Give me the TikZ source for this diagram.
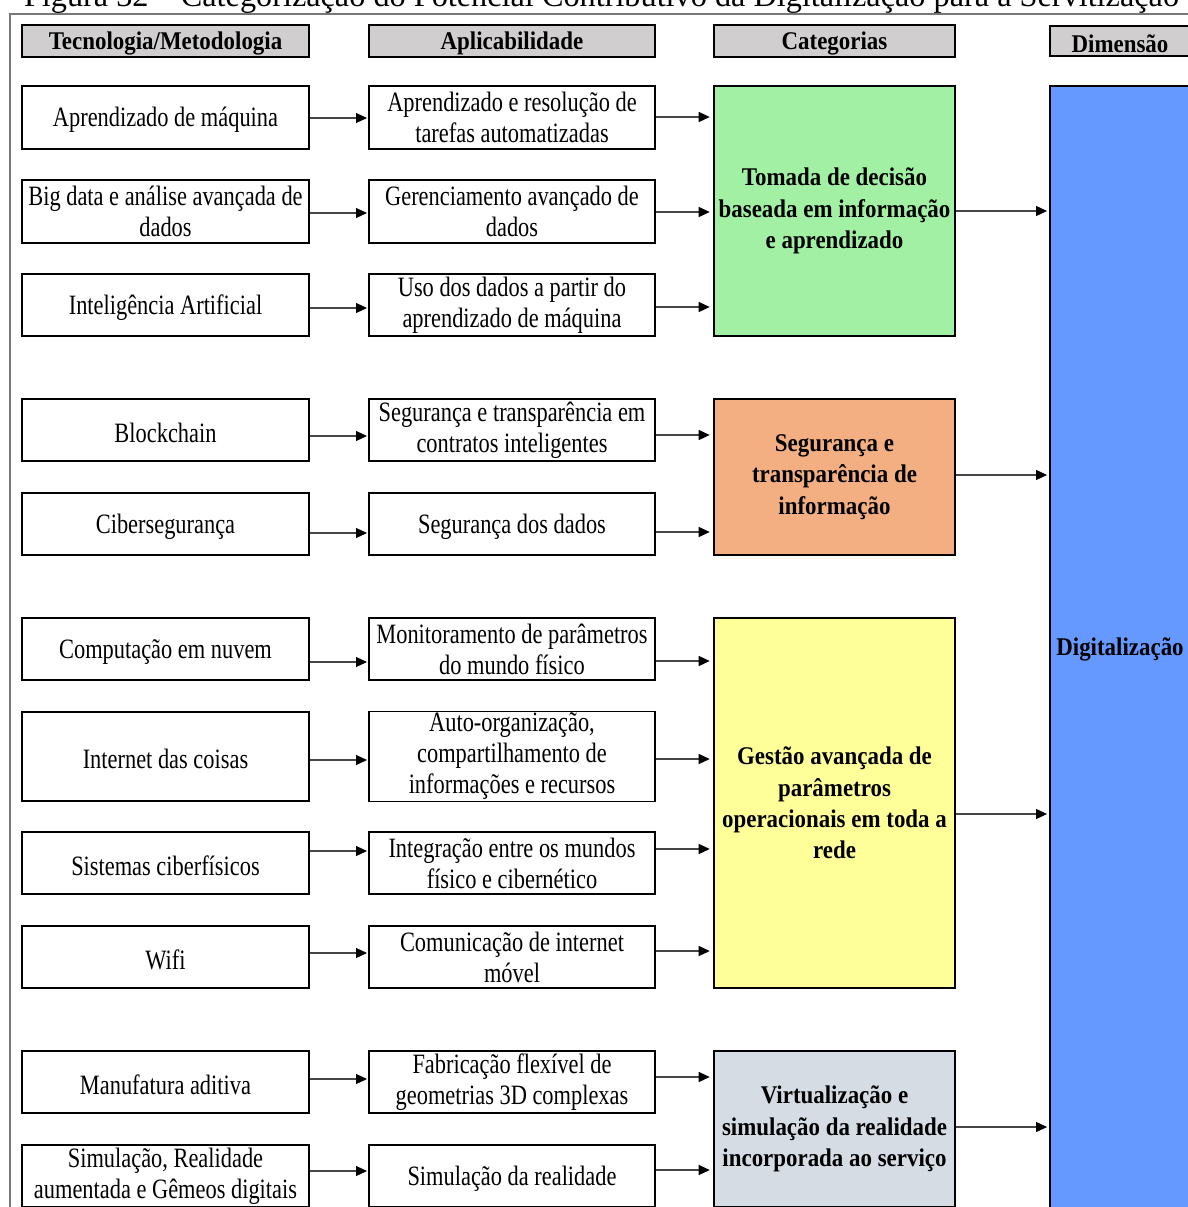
\documentclass[tikz,border=0pt]{standalone}
\usepackage{fontspec}
\setmainfont{Liberation Serif}
\newfontfamily\bodyfont[FakeStretch=0.8]{Liberation Serif}
\newfontfamily\boldfont[FakeStretch=0.9]{Liberation Serif Bold}
\usetikzlibrary{arrows.meta,shadows}

\definecolor{hdrgray}{RGB}{208,206,206}
\definecolor{catgreen}{RGB}{162,240,164}
\definecolor{catorange}{RGB}{243,175,130}
\definecolor{catyellow}{RGB}{255,255,153}
\definecolor{catgray}{RGB}{214,220,228}
\definecolor{dimblue}{RGB}{102,153,255}
\definecolor{framegray}{RGB}{120,120,120}
\definecolor{linegray}{RGB}{70,70,70}

\begin{document}
\begin{tikzpicture}[x=0.75pt,y=-0.75pt,
  bodytxt/.style={font=\bodyfont\fontsize{21}{23.25}\selectfont, align=center, inner sep=1pt,
    execute at begin node={\rule{0pt}{18.5pt}}},
  boldtxt/.style={font=\boldfont\fontsize{19.1}{23.6}\selectfont, align=center, inner sep=1pt,
    execute at begin node={\rule{0pt}{17.5pt}}},
  tbox/.style={bodytxt, draw=black, line width=1pt, fill=white,
    drop shadow={shadow xshift=0.9pt, shadow yshift=-0.9pt, opacity=1, fill=black}},
  hdr/.style={boldtxt, draw=black, line width=1.4pt, fill=hdrgray, minimum height=23pt,
    drop shadow={shadow xshift=0.8pt, shadow yshift=-0.8pt, opacity=1, fill=black}},
  catbox/.style={boldtxt, draw=black, line width=1.4pt, minimum width=180.75pt},
  colA/.style={minimum width=215.25pt},
  colB/.style={minimum width=214.5pt},
  rowh/.style={minimum height=46.5pt},
  arr/.style={draw=linegray, line width=0.8pt, -{Triangle[length=8.25pt,width=7.5pt,color=black]}},
]
\useasboundingbox (0,0) rectangle (1188,1207);
\clip (0,0) rectangle (1188,1207);

% caption running above the frame
\node[anchor=base, font=\fontsize{24.2}{28}\selectfont, inner sep=0pt] (caption) at (601.5,6)
  {Figura 32 – Categorização do Potencial Contributivo da Digitalização para a Servitização};

% frame
\draw[framegray, line width=1pt] (1190,14) -- (10,14) -- (10,1210);

% column headers
\node[hdr, colA] (h1) at (165.5,41) {Tecnologia/Metodologia};
\node[hdr, colB] (h2) at (512,41) {Aplicabilidade};
\node[hdr, minimum width=180.75pt] (h3) at (834.5,41) {Categorias};
\node[hdr, minimum width=105pt] (h4) at (1120,41) {Dimensão};

% technologies
\node[tbox, colA, minimum height=47.25pt] (t1) at (165.5,117.5) {Aprendizado de máquina};
\node[tbox, colA, minimum height=47.25pt] (t2) at (165.5,211.5) {Big data e análise avançada de\\dados};
\node[tbox, colA, rowh] (t3) at (165.5,305) {Inteligência Artificial};
\node[tbox, colA, rowh] (t4) at (165.5,430) {Blockchain};
\node[tbox, colA, rowh] (t5) at (165.5,524) {Cibersegurança};
\node[tbox, colA, rowh] (t6) at (165.5,649) {Computação em nuvem};
\node[tbox, colA, minimum height=66.75pt] (t7) at (165.5,756.5) {Internet das coisas};
\node[tbox, colA, rowh] (t8) at (165.5,863) {Sistemas ciberfísicos};
\node[tbox, colA, rowh] (t9) at (165.5,957) {Wifi};
\node[tbox, colA, rowh] (t10) at (165.5,1082) {Manufatura aditiva};
\node[tbox, colA, rowh] (t11) at (165.5,1176) {Simulação, Realidade\\aumentada e Gêmeos digitais};

% applicability
\node[tbox, colB, minimum height=47.25pt] (a1) at (512,117.5) {Aprendizado e resolução de\\tarefas automatizadas};
\node[tbox, colB, minimum height=47.25pt] (a2) at (512,211.5) {Gerenciamento avançado de\\dados};
\node[tbox, colB, rowh] (a3) at (512,305) {Uso dos dados a partir do\\aprendizado de máquina};
\node[tbox, colB, rowh] (a4) at (512,430) {Segurança e transparência em\\contratos inteligentes};
\node[tbox, colB, rowh] (a5) at (512,524) {Segurança dos dados};
\node[tbox, colB, rowh] (a6) at (512,649) {Monitoramento de parâmetros\\do mundo físico};
\node[tbox, colB, minimum height=66.75pt] (a7) at (512,756.5) {Auto-organização,\\compartilhamento de\\informações e recursos};
\node[tbox, colB, rowh] (a8) at (512,863) {Integração entre os mundos\\físico e cibernético};
\node[tbox, colB, rowh] (a9) at (512,957) {Comunicação de internet\\móvel};
\node[tbox, colB, rowh] (a10) at (512,1082) {Fabricação flexível de\\geometrias 3D complexas};
\node[tbox, colB, rowh] (a11) at (512,1176) {Simulação da realidade};

% categories
\node[catbox, fill=catgreen, minimum height=187.5pt] (c1) at (834.5,211) {Tomada de decisão\\baseada em informação\\e aprendizado};
\node[catbox, fill=catorange, minimum height=117pt] (c2) at (834.5,477) {Segurança e\\transparência de\\informação};
\node[catbox, fill=catyellow, minimum height=277.5pt] (c3) at (834.5,803) {Gestão avançada de\\parâmetros\\operacionais em toda a\\rede};
\node[catbox, fill=catgray, minimum height=117pt] (c4) at (834.5,1129) {Virtualização e\\simulação da realidade\\incorporada ao serviço};

% dimension
\node[boldtxt, draw=black, line width=1.4pt, fill=dimblue, minimum width=105pt, minimum height=841.5pt] (dim) at (1120,647) {Digitalização};

% connectors technology -> applicability -> category
\foreach \i/\ya/\yb/\c in {1/118/117/c1, 2/213/212/c1, 3/308/307/c1,
                           4/436/435/c2, 5/533/532/c2,
                           6/662/661/c3, 7/760/759/c3, 8/851/849/c3, 9/953/951/c3,
                           10/1079/1077/c4, 11/1171/1170/c4}{
  \draw[arr, shorten >=1pt] (t\i.east |- 0,\ya) -- (a\i.west |- 0,\ya);
  \draw[arr, shorten >=2.5pt] (a\i.east |- 0,\yb) -- (\c.west |- 0,\yb);
}

% category -> dimension
\foreach \c/\y in {c1/211, c2/475, c3/814, c4/1127}{
  \draw[arr, shorten >=1.5pt] (\c.east |- 0,\y) -- (dim.west |- 0,\y);
}
\end{tikzpicture}
\end{document}
